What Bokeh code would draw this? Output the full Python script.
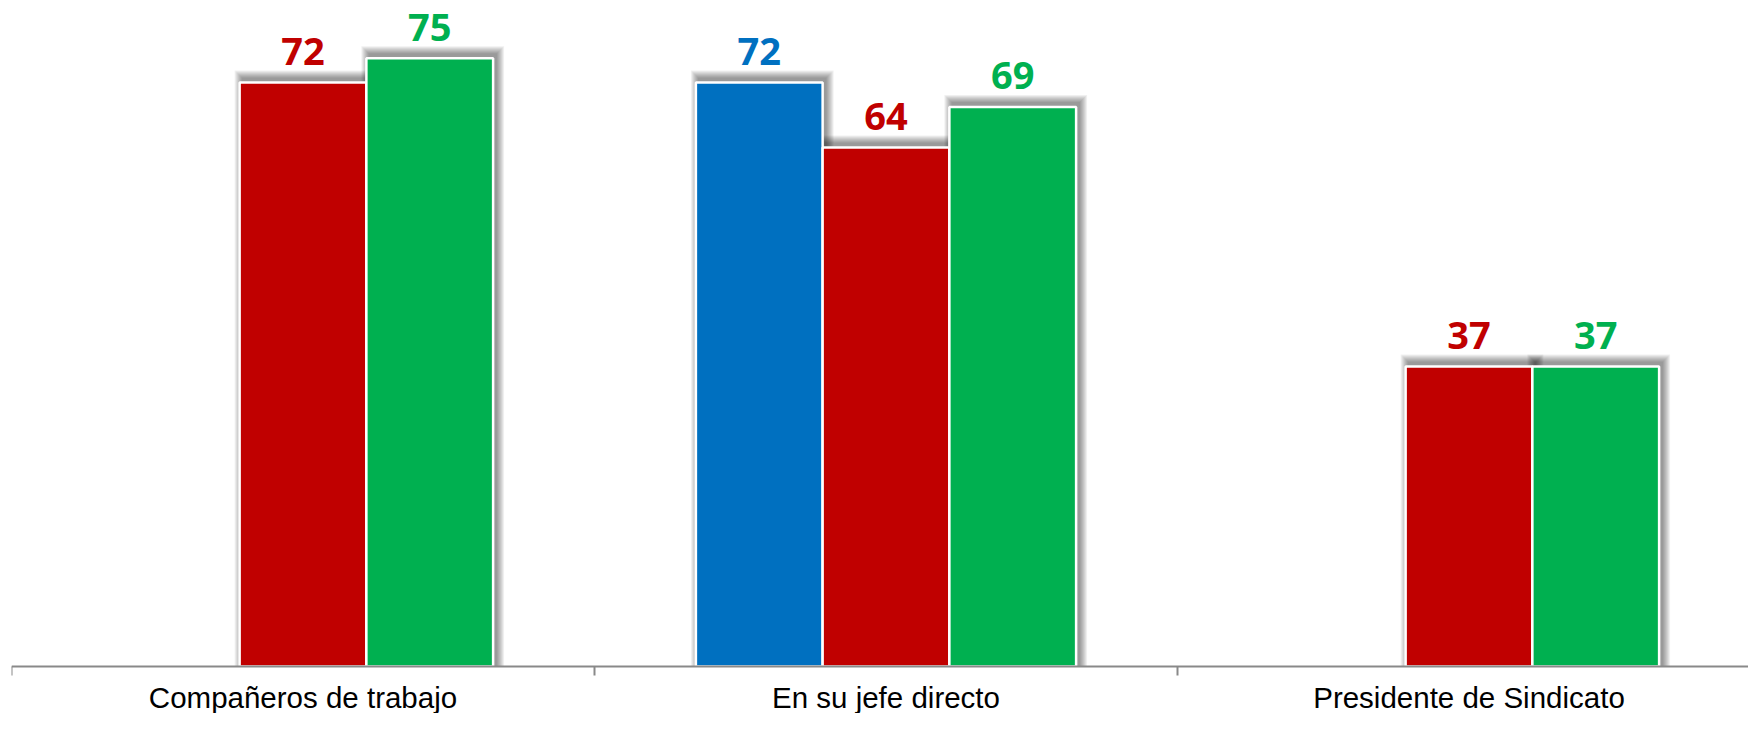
from bokeh.plotting import figure
from bokeh.models import ColumnDataSource, FixedTicker, Range1d
from bokeh.transform import dodge
from bokeh.core.properties import value
from bokeh.embed import file_html
from bokeh.resources import INLINE

# ---- data ----
categories = ["Compañeros de trabajo", "En su jefe directo", "Presidente de Sindicato"]
serie_azul = [None, 72, None]
serie_roja = [72, 64, 37]
serie_verde = [75, 69, 37]
series_names = ["azul", "roja", "verde"]
series_values = [serie_azul, serie_roja, serie_verde]
series_colors = ["#0070C0", "#C00000", "#00B050"]

W, H = 1748, 713
LEFT = 11
XPX = 583.0                      # screen pixels per category
X1 = (W - LEFT) / XPX
Y0, Y1 = -5.80, 82.12
p = figure(width=W, height=H, x_range=Range1d(0, X1), y_range=Range1d(Y0, Y1),
           output_backend="svg", toolbar_location=None,
           min_border_left=LEFT, min_border_right=0, min_border_top=0, min_border_bottom=0,
           outline_line_color=None, background_fill_color="white")
p.yaxis.visible = False
p.grid.visible = False

slot = 0.2174
offsets = [-slot, 0.0, slot]
pxx = 1.0 / XPX                  # data units per screen pixel (x)
pxy = (Y1 - Y0) / float(H)       # data units per screen pixel (y)

sources = []
for name, vals, off, col in zip(series_names, series_values, offsets, series_colors):
    xs = [i + 0.5 for i, v in enumerate(vals) if v is not None]
    tops = [v for v in vals if v is not None]
    src = ColumnDataSource(dict(x=xs, top=tops, label=[str(v) for v in tops],
                                ly=[t + 31 * pxy for t in tops]))
    sources.append((src, off, col, tops))

# soft drop shadows (drawn first, behind the bars)
for src, off, col, tops in sources:
    for k in range(1, 9):
        sh = ColumnDataSource(dict(x=src.data["x"], top=[t + (4 + k) * pxy for t in tops]))
        p.vbar(x=dodge("x", off + 3 * pxx, range=p.x_range), top="top", bottom=0,
               width=slot + 2 * k * pxx, source=sh,
               fill_color="#000000", fill_alpha=0.058, line_color=None)

for src, off, col, tops in sources:
    p.vbar(x=dodge("x", off, range=p.x_range), top="top", bottom=0, width=slot, source=src,
           fill_color=col, line_color="white", line_width=2.5)
    p.text(x=dodge("x", off, range=p.x_range), y="ly", text="label", source=src,
           text_align="center", text_baseline="alphabetic",
           text_font=value("Open Sans"), text_font_style="bold", text_font_size="38px",
           text_color=col)

ax = p.xaxis[0]
ax.fixed_location = 0
ax.ticker = FixedTicker(ticks=[i + 0.5 for i in range(len(categories))],
                        minor_ticks=list(range(len(categories) + 1)))
ax.major_label_overrides = {i + 0.5: c for i, c in enumerate(categories)}
ax.axis_line_color = "#898989"
ax.axis_line_width = 2
ax.major_tick_out = 0
ax.major_tick_in = 0
ax.minor_tick_out = 9
ax.minor_tick_in = 0
ax.minor_tick_line_color = "#898989"
ax.minor_tick_line_width = 2
ax.major_label_standoff = 6
ax.major_label_text_font = "Liberation Sans"
ax.major_label_text_font_size = "29.5px"
ax.major_label_text_color = "black"

open("out.html", "w").write(file_html(p, INLINE))
